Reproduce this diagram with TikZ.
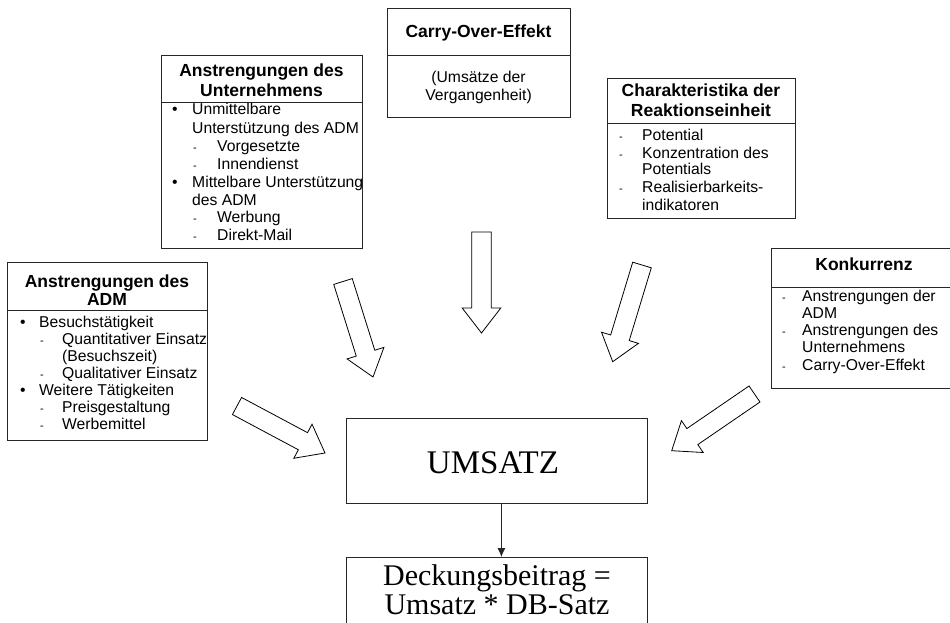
\documentclass[tikz,border=0pt]{standalone}
\usepackage{fontspec}
\setmainfont{Liberation Sans}
\newfontfamily\seriffont{Liberation Serif}
\usetikzlibrary{calc,arrows.meta}

\tikzset{
  boxline/.style={draw=black!85, line width=0.8pt},
  boxnode/.style={boxline, rectangle, inner sep=0pt, anchor=north west},
  hd/.style={inner sep=0pt, anchor=base, font=\fontsize{17.5}{18}\bfseries},
  bd/.style={inner sep=0pt, anchor=base west, font=\fontsize{15.7}{17}\selectfont},
  bdc/.style={inner sep=0pt, anchor=base, font=\fontsize{15.7}{17}\selectfont},
  dsh/.style={inner sep=0pt, anchor=base west, font=\fontsize{11}{12}\selectfont},
  blk/.style={draw=black, line width=0.8pt, fill=white, line join=miter},
  big/.style={inner sep=0pt, anchor=base, font=\seriffont\fontsize{33}{33}\selectfont},
  mid/.style={inner sep=0pt, anchor=base, font=\seriffont\fontsize{30}{30}\selectfont},
}

\newcommand\blockarrow[2]{%
  \coordinate (#1-b) at ($(#2)!25pt!(#1)$);
  \draw[blk] ($(#1)!9.7pt!90:(#2)$) -- ($(#1-b)!9.7pt!90:(#2)$) -- ($(#1-b)!19.3pt!90:(#2)$) -- (#2)
    -- ($(#1-b)!19.3pt!-90:(#2)$) -- ($(#1-b)!9.7pt!-90:(#2)$) -- ($(#1)!9.7pt!-90:(#2)$) -- cycle;}

\begin{document}
\begin{tikzpicture}[x=1pt,y=-1pt]
\useasboundingbox (0,0) rectangle (950,623);
\clip (0,0) rectangle (950,623);

% ---------- Box 1: Anstrengungen des ADM ----------
\node[boxnode, minimum width=200pt, minimum height=178pt] (b1) at (7,262) {};
\draw[boxline] (7,310) -- (207,310);
\node[hd] (b1h1) at (107,287) {Anstrengungen des};
\node[hd] (b1h2) at (107,305) {ADM};
\node[bd] (b1m1) at (20,327) {•};
\node[bd] (b1t1) at (39,327) {Besuchstätigkeit};
\node[dsh] (b1d1) at (40,344) {-};
\node[bd] (b1t2) at (62,344) {Quantitativer Einsatz};
\node[bd] (b1t3) at (62,361) {(Besuchszeit)};
\node[dsh] (b1d2) at (40,378) {-};
\node[bd] (b1t4) at (62,378) {Qualitativer Einsatz};
\node[bd] (b1m2) at (20,395) {•};
\node[bd] (b1t5) at (39,395) {Weitere Tätigkeiten};
\node[dsh] (b1d3) at (40,412) {-};
\node[bd] (b1t6) at (62,412) {Preisgestaltung};
\node[dsh] (b1d4) at (40,429) {-};
\node[bd] (b1t7) at (62,429) {Werbemittel};

% ---------- Box 2: Anstrengungen des Unternehmens ----------
\node[boxnode, minimum width=201pt, minimum height=193pt] (b2) at (161,55) {};
\draw[boxline] (161,102) -- (362,102);
\node[hd] (b2h1) at (261.5,77) {Anstrengungen des};
\node[hd] (b2h2) at (261.5,97) {Unternehmens};
\node[bd] (b2m1) at (172,115) {•};
\node[bd] (b2t1) at (192,115) {Unmittelbare};
\node[bd] (b2t2) at (192,133) {Unterstützung des ADM};
\node[dsh] (b2d1) at (193,151) {-};
\node[bd] (b2t3) at (217,151) {Vorgesetzte};
\node[dsh] (b2d2) at (193,169) {-};
\node[bd] (b2t4) at (217,169) {Innendienst};
\node[bd] (b2m2) at (172,187) {•};
\node[bd] (b2t5) at (192,187) {Mittelbare Unterstützung};
\node[bd] (b2t6) at (192,205) {des ADM};
\node[dsh] (b2d3) at (193,222) {-};
\node[bd] (b2t7) at (217,222) {Werbung};
\node[dsh] (b2d4) at (193,240) {-};
\node[bd] (b2t8) at (217,240) {Direkt-Mail};

% ---------- Box 3: Carry-Over-Effekt ----------
\node[boxnode, minimum width=183pt, minimum height=109pt] (b3) at (387,8) {};
\draw[boxline] (387,55) -- (570,55);
\node[hd] (b3h1) at (478.5,38) {Carry-Over-Effekt};
\node[bdc] (b3t1) at (478.5,83) {(Umsätze der};
\node[bdc] (b3t2) at (478.5,101) {Vergangenheit)};

% ---------- Box 4: Charakteristika der Reaktionseinheit ----------
\node[boxnode, minimum width=188pt, minimum height=140pt] (b4) at (607,78) {};
\draw[boxline] (607,123) -- (795,123);
\node[hd] (b4h1) at (701,97) {Charakteristika der};
\node[hd] (b4h2) at (701,117) {Reaktionseinheit};
\node[dsh] (b4d1) at (619,140) {-};
\node[bd] (b4t1) at (642,140) {Potential};
\node[dsh] (b4d2) at (619,158) {-};
\node[bd] (b4t2) at (642,158) {Konzentration des};
\node[bd] (b4t3) at (642,175) {Potentials};
\node[dsh] (b4d3) at (619,192) {-};
\node[bd] (b4t4) at (642,192) {Realisierbarkeits-};
\node[bd] (b4t5) at (642,210) {indikatoren};

% ---------- Box 5: Konkurrenz ----------
\node[boxnode, minimum width=189pt, minimum height=140pt] (b5) at (771,248) {};
\draw[boxline] (771,287) -- (960,287);
\node[hd] (b5h1) at (864,270) {Konkurrenz};
\node[dsh] (b5d1) at (782,301) {-};
\node[bd] (b5t1) at (802,301) {Anstrengungen der};
\node[bd] (b5t2) at (802,318) {ADM};
\node[dsh] (b5d2) at (782,335) {-};
\node[bd] (b5t3) at (802,335) {Anstrengungen des};
\node[bd] (b5t4) at (802,352) {Unternehmens};
\node[dsh] (b5d3) at (782,370) {-};
\node[bd] (b5t5) at (802,370) {Carry-Over-Effekt};

% ---------- UMSATZ and Deckungsbeitrag ----------
\node[boxnode, minimum width=301pt, minimum height=85pt] (ums) at (346,418) {};
\node[big] (umst) at (493,473) {UMSATZ};
\node[boxnode, minimum width=301pt, minimum height=95pt] (deck) at (346,557) {};
\node[mid] (deckt1) at (497,585) {Deckungsbeitrag =};
\node[mid] (deckt2) at (497,614) {Umsatz * DB-Satz};
\draw[draw=black!85, line width=0.8pt, -{Latex[length=9pt,width=8pt]}]
  ([xshift=4.5pt]ums.south) -- ([xshift=4.5pt]deck.north);

% ---------- Block arrows ----------
\coordinate (t1) at (237,406);   \coordinate (h1) at (325,453);
\coordinate (t2) at (343,281.5); \coordinate (h2) at (373,377);
\coordinate (t3) at (481.5,232); \coordinate (h3) at (481.5,333);
\coordinate (t4) at (642,265);   \coordinate (h4) at (612.7,361.7);
\coordinate (t5) at (754.5,394); \coordinate (h5) at (671.7,450.7);
\blockarrow{t1}{h1}
\blockarrow{t2}{h2}
\blockarrow{t3}{h3}
\blockarrow{t4}{h4}
\blockarrow{t5}{h5}
\end{tikzpicture}
\end{document}
